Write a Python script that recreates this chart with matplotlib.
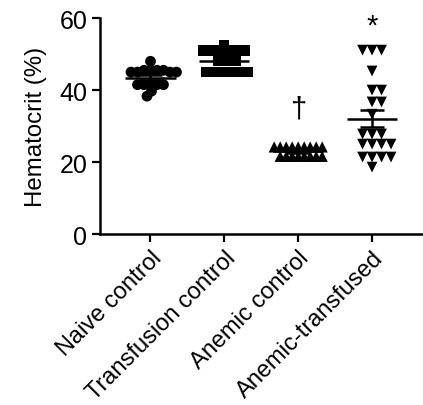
import numpy as np
import matplotlib
matplotlib.use("Agg")
import matplotlib.pyplot as plt

plt.rcParams['font.family'] = ['Liberation Sans', 'DejaVu Sans']

categories = ["Naive control", "Transfusion control", "Anemic control", "Anemic-transfused"]
naive = [48, 45.5, 45.5, 45.5, 45.5, 45, 45, 45, 45, 41.5, 41.5, 41.5, 41.5, 41.5, 39.7, 38.3]
transfusion = [52.5, 51, 51, 51, 51, 51, 51, 51, 51, 48, 48, 48, 48,
               45, 45, 45, 45, 45, 45, 45, 45]
anemic_control = [24.2] * 9 + [21.6] * 8
anemic_transfused = [51.1, 51.1, 51.1, 45.3, 40, 40, 36.7, 36.7, 33.3,
                     27.8, 27.8, 27.8, 25, 25, 25, 25, 21.4, 21.4, 21.4, 21.4, 18.6]
groups = [naive, transfusion, anemic_control, anemic_transfused]
markers = ['o', 's', '^', 'v']
marker_sizes = [60, 55, 65, 60]
spacing_px = [6.5, 6.0, 6.0, 9.5]
annotations = ["", "", "\u2020", "*"]
annotation_y = [None, None, 35, 58.0]

fig = plt.figure(figsize=(4.23, 4.06), dpi=100)
ax = fig.add_axes([0.236, 0.421, 0.764, 0.532])
ax.set_ylim(0, 60)
ax.set_xlim(-0.686, 3.69)

fig.canvas.draw()
trans = ax.transData
p0 = trans.transform((0, 0))
p1 = trans.transform((1, 1))
sx = p1[0] - p0[0]
sy = p1[1] - p0[1]


def swarm(vals, xc, mind):
    vals = list(vals)
    placed = []
    xs = [None] * len(vals)
    order = sorted(range(len(vals)), key=lambda i: -vals[i])
    for i in order:
        y = vals[i] * sy
        cands = []
        k = 0
        while True:
            for off in ([0] if k == 0 else [k, -k]):
                ok = True
                for (px, py) in placed:
                    if (off - px) ** 2 + (y - py) ** 2 < mind ** 2 - 1e-6:
                        ok = False
                        break
                if ok:
                    cands.append(off)
            if cands:
                break
            k += 0.5
        off = cands[0]
        placed.append((off, y))
        xs[i] = xc + off / sx
    return xs


for i, vals in enumerate(groups):
    xs = swarm(vals, i, spacing_px[i])
    ax.scatter(xs, vals, marker=markers[i], s=marker_sizes[i], color='black',
               edgecolors='none', zorder=3)
    v = np.array(vals)
    m = v.mean()
    sem = v.std(ddof=1) / np.sqrt(len(v))
    ax.hlines(m, i - 0.34, i + 0.34, color='black', lw=1.8, zorder=4)
    ax.vlines(i, m - sem, m + sem, color='black', lw=1.8, zorder=4)
    ax.hlines([m - sem, m + sem], i - 0.16, i + 0.16, color='black', lw=1.8, zorder=4)
    if annotations[i]:
        ax.text(i, annotation_y[i], annotations[i], ha='center', va='center',
                fontsize=21, color='black')

ax.set_xticks(range(len(categories)))
ax.set_xticklabels(categories, rotation=45, ha='right', va='top',
                   rotation_mode='anchor', fontsize=17)
ax.set_yticks([0, 20, 40, 60])
ax.tick_params(axis='y', labelsize=18, length=6, width=1.6, direction='out', pad=3)
ax.tick_params(axis='x', length=6, width=1.6, direction='out', pad=3)
ax.set_ylabel("Hematocrit (%)", fontsize=17.3, labelpad=9)
for s in ['top', 'right']:
    ax.spines[s].set_visible(False)
for s in ['left', 'bottom']:
    ax.spines[s].set_linewidth(1.8)

fig.savefig("out.png", dpi=100)
